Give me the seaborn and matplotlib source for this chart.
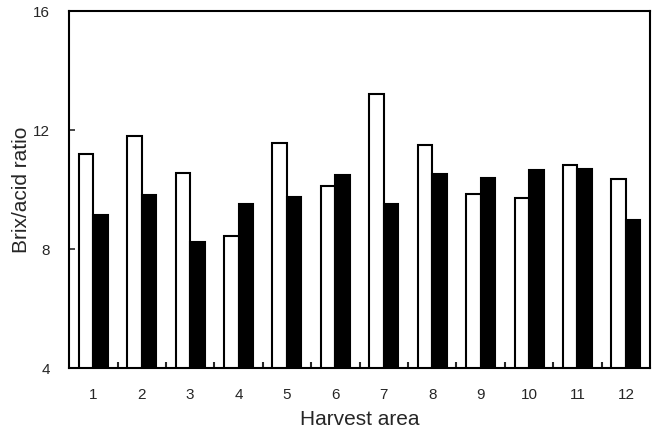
import matplotlib
matplotlib.use("Agg")
import matplotlib.pyplot as plt
from matplotlib.ticker import FixedLocator
import seaborn as sns
import pandas as pd

areas = [str(i) for i in range(1, 13)]
white_values = [11.2, 11.8, 10.55, 8.43, 11.57, 10.11, 13.22, 11.49, 9.84, 9.71, 10.83, 10.35]
black_values = [9.14, 9.81, 8.25, 9.51, 9.75, 10.48, 9.53, 10.51, 10.40, 10.65, 10.69, 8.97]
series_names = ["white", "black"]

df = pd.DataFrame({
    "area": areas * 2,
    "ratio": white_values + black_values,
    "series": [series_names[0]] * len(areas) + [series_names[1]] * len(areas),
})

sns.set_style("white")
plt.rcParams["font.family"] = ["Liberation Sans", "DejaVu Sans"]

fig = plt.figure(figsize=(6.58, 4.29), dpi=100)
ax = fig.add_axes([0.105, 0.142, 0.883, 0.832])

sns.barplot(
    data=df, x="area", y="ratio", hue="series",
    palette={"white": "white", "black": "black"},
    edgecolor="black", linewidth=1.5, width=0.6, gap=0,
    legend=False, ax=ax,
)

ax.set_ylim(4, 16)
ax.set_xlim(-0.5, 11.5)
ax.set_yticks([4, 8, 12, 16])
ax.tick_params(axis="y", direction="in", length=4, width=1.2, labelsize=11, pad=14, left=True)
ax.tick_params(axis="x", which="major", length=0, labelsize=11, pad=14)
ax.xaxis.set_minor_locator(FixedLocator([i + 0.5 for i in range(11)]))
ax.tick_params(axis="x", which="minor", direction="in", length=4, width=1.5, bottom=True)

for spine in ax.spines.values():
    spine.set_visible(True)
    spine.set_color("black")
    spine.set_linewidth(1.5)

ax.set_xlabel("Harvest area", fontsize=15, labelpad=6)
ax.set_ylabel("Brix/acid ratio", fontsize=15, labelpad=1)

fig.savefig("out.png", dpi=100)
